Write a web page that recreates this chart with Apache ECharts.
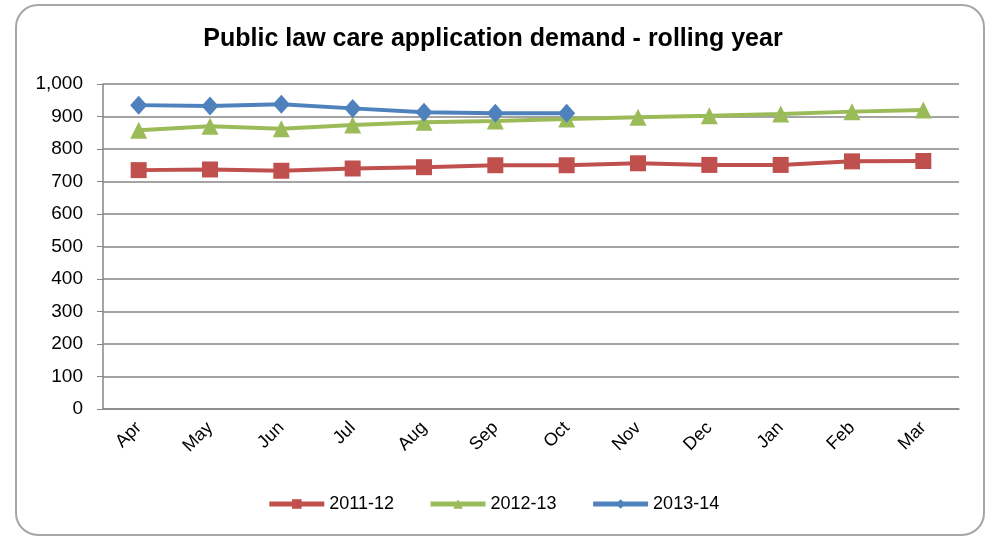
<!DOCTYPE html>
<html>
<head>
<meta charset="utf-8">
<script src="https://cdn.jsdelivr.net/npm/echarts@6/dist/echarts.min.js"></script>
<style>
  html, body { margin: 0; padding: 0; background: #fff; }
  #main { width: 986px; height: 536px; }
</style>
</head>
<body>
<div id="main"></div>
<script>
const months = ['Apr', 'May', 'Jun', 'Jul', 'Aug', 'Sep', 'Oct', 'Nov', 'Dec', 'Jan', 'Feb', 'Mar']
const demand1112 = [735, 737, 733, 740, 744, 750, 750, 756, 751, 751, 762, 763]
const demand1213 = [858, 870, 862, 874, 882, 886, 892, 898, 902, 908, 915, 920]
const demand1314 = [935, 932, 938, 925, 913, 910, 910]

const chartDom = document.getElementById('main')
const myChart = echarts.init(chartDom)

const font = 'Liberation Sans, Arial, sans-serif'

myChart.setOption({
  animation: false,
  backgroundColor: '#fff',
  title: {
    text: 'Public law care application demand - rolling year',
    left: 'center',
    top: 22,
    textStyle: {
      fontFamily: font,
      fontWeight: 'bold',
      fontSize: 25,
      color: '#000'
    }
  },
  graphic: [{
    type: 'rect',
    shape: { x: 16, y: 5, width: 968, height: 530, r: 22 },
    style: { fill: 'none', stroke: '#a6a6a6', lineWidth: 2 },
    silent: true
  }],
  legend: {
    bottom: 18,
    left: 'center',
    itemWidth: 55,
    itemHeight: 12,
    itemGap: 34,
    lineStyle: { width: 5 },
    textStyle: { fontFamily: font, fontSize: 18, color: '#000' },
    data: ['2011-12', '2012-13', '2013-14']
  },
  grid: {
    left: 103,
    right: 27,
    top: 84,
    bottom: 127
  },
  xAxis: {
    type: 'category',
    data: months,
    boundaryGap: true,
    axisLine: { lineStyle: { color: '#868686', width: 1.5 } },
    axisTick: { length: 6, lineStyle: { color: '#868686' } },
    axisLabel: {
      rotate: 45,
      margin: 16,
      fontFamily: font,
      fontSize: 18,
      color: '#000'
    }
  },
  yAxis: {
    type: 'value',
    min: 0,
    max: 1000,
    interval: 100,
    axisLine: { show: true, lineStyle: { color: '#868686', width: 1.5 } },
    axisTick: { show: true, inside: false, length: 6, lineStyle: { color: '#868686' } },
    splitLine: { lineStyle: { color: '#868686', width: 1.5 } },
    axisLabel: {
      margin: 20,
      fontFamily: font,
      fontSize: 19,
      color: '#000',
      formatter: v => v.toLocaleString('en-US')
    }
  },
  series: [
    {
      name: '2011-12',
      type: 'line',
      data: demand1112,
      symbol: 'rect',
      symbolSize: 16,
      lineStyle: { width: 4, color: '#C0504D' },
      itemStyle: { color: '#C0504D' }
    },
    {
      name: '2012-13',
      type: 'line',
      data: demand1213,
      symbol: 'triangle',
      symbolSize: 17,
      lineStyle: { width: 4, color: '#9BBB59' },
      itemStyle: { color: '#9BBB59' }
    },
    {
      name: '2013-14',
      type: 'line',
      data: demand1314,
      symbol: 'diamond',
      symbolSize: [17, 19],
      lineStyle: { width: 4, color: '#4F81BD' },
      itemStyle: { color: '#4F81BD' }
    }
  ]
})
</script>
</body>
</html>
